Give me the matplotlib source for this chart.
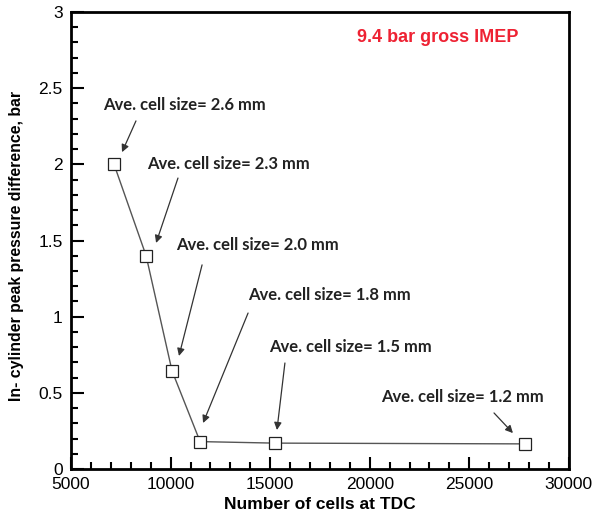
import matplotlib.pyplot as plt
from matplotlib.ticker import MultipleLocator

# grid resolution vs. in-cylinder peak pressure difference
n_cells = [7160, 8770, 10070, 11480, 15230, 27790]
dp_peak = [2.0, 1.4, 0.645, 0.18, 0.17, 0.165]
cell_size_labels = ["Ave. cell size= 2.6 mm", "Ave. cell size= 2.3 mm",
                    "Ave. cell size= 2.0 mm", "Ave. cell size= 1.8 mm",
                    "Ave. cell size= 1.5 mm", "Ave. cell size= 1.2 mm"]
# label centres, arrow tails and arrow heads (data units)
label_xy = [(10720, 2.39), (12930, 2.0), (14340, 1.47),
            (18000, 1.142), (19010, 0.80), (24680, 0.473)]
arrow_from = [(8260, 2.285), (10370, 1.91), (11580, 1.34),
              (13890, 1.024), (15740, 0.696), (26240, 0.368)]
arrow_to = [(7560, 2.08), (9270, 1.484), (10420, 0.742),
            (11630, 0.302), (15340, 0.256), (27190, 0.236)]

fig = plt.figure(figsize=(6.02, 5.22), dpi=100)
ax = fig.add_axes([0.118, 0.1015, 0.827, 0.8755])

ax.plot(n_cells, dp_peak, color='#555555', linewidth=1.0, marker='s',
        markersize=9, markerfacecolor='white', markeredgecolor='#222222',
        markeredgewidth=0.9)

for lab, (tx, ty), (ax0, ay0), (ax1, ay1) in zip(cell_size_labels, label_xy, arrow_from, arrow_to):
    ax.text(tx, ty, lab, ha='center', va='center', fontsize=12,
            fontweight='bold', family='Lato', color='#222222')
    ax.annotate('', xy=(ax1, ay1), xytext=(ax0, ay0),
                arrowprops=dict(arrowstyle='-|>', color='#333333', lw=0.9,
                                mutation_scale=11, shrinkA=0, shrinkB=0))

ax.text(23420, 2.83, "9.4 bar gross IMEP", ha='center', va='center',
        fontsize=13, fontweight='bold', color='#ee2233', family='Liberation Sans')

ax.set_xlim(5000, 30000)
ax.set_ylim(0, 3)
ax.xaxis.set_major_locator(MultipleLocator(5000))
ax.xaxis.set_minor_locator(MultipleLocator(1000))
ax.yaxis.set_major_locator(MultipleLocator(0.5))
ax.yaxis.set_minor_locator(MultipleLocator(0.1))
ax.tick_params(which='both', direction='in', width=1.5)
ax.tick_params(which='major', length=9, labelsize=12.5, pad=6)
ax.tick_params(which='minor', length=5)
ax.yaxis.set_major_formatter(plt.FuncFormatter(lambda v, p: f"{v:g}"))
for lbl in ax.get_xticklabels() + ax.get_yticklabels():
    lbl.set_family('Liberation Sans')
for sp in ax.spines.values():
    sp.set_linewidth(2)

ax.set_xlabel("Number of cells at TDC", fontsize=12.5, fontweight='bold',
              family='Liberation Sans', labelpad=3)
ax.set_ylabel("In- cylinder peak pressure difference, bar", fontsize=11.4,
              fontweight='bold', family='Liberation Sans')
ax.yaxis.set_label_coords(-0.094, 0.488)

fig.savefig("out.png", dpi=100)
